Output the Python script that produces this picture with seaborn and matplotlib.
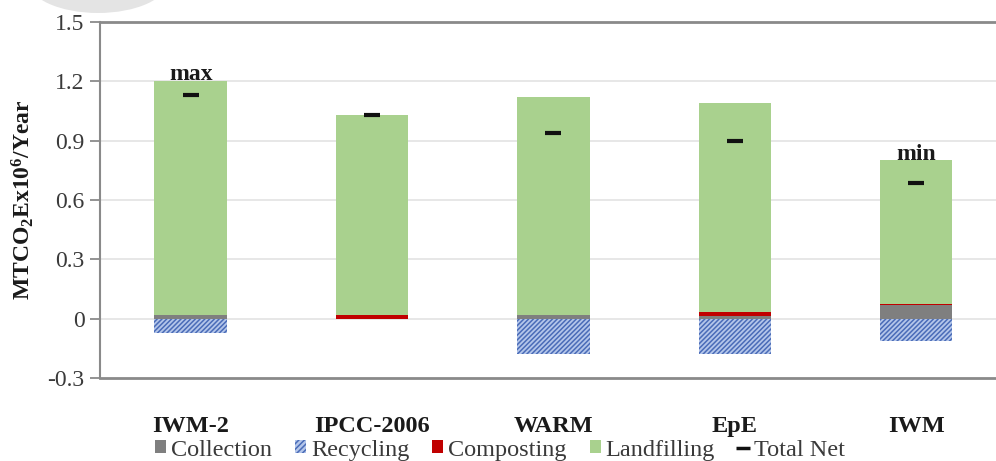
import matplotlib
matplotlib.use("Agg")
import matplotlib.pyplot as plt
from matplotlib.patches import Patch, Circle
from matplotlib.lines import Line2D
import numpy as np
import pandas as pd
import seaborn as sns

# Emission model comparison (MTCO2E x10^6 / year)
models = ["IWM-2", "IPCC-2006", "WARM", "EpE", "IWM"]
collection = [0.02, 0.00, 0.02, 0.015, 0.07]
recycling = [-0.07, 0.00, -0.18, -0.18, -0.115]
composting = [0.00, 0.02, 0.00, 0.02, 0.006]
landfilling = [1.18, 1.01, 1.10, 1.055, 0.724]
total_net = [1.13, 1.03, 0.94, 0.90, 0.685]
yticks = [-0.3, 0, 0.3, 0.6, 0.9, 1.2, 1.5]
ytick_labels = ["-0.3", "0", "0.3", "0.6", "0.9", "1.2", "1.5"]

df = pd.DataFrame({
    "model": models,
    "collection": collection,
    "recycling": recycling,
    "composting": composting,
    "landfilling": landfilling,
    "total": total_net,
})

sns.set_style("white")
plt.rcParams["font.family"] = ["Liberation Serif", "DejaVu Serif"]
plt.rcParams["hatch.linewidth"] = 1.1
plt.rcParams["mathtext.fontset"] = "custom"
plt.rcParams["mathtext.rm"] = "Liberation Serif"
plt.rcParams["mathtext.bf"] = "Liberation Serif:bold"

fig = plt.figure(figsize=(9.96, 4.61), dpi=100)
ax = fig.add_axes([100 / 996, 1 - 378 / 461, 896 / 996, (378 - 22) / 461])

C_COLL = "#7f7f7f"
C_REC_FACE = "#b4c6ea"
C_REC_HATCH = "#4a6cb8"
C_COMP = "#c00000"
C_LAND = "#a9d18e"
BW = 0.4

# light horizontal gridlines
for t in yticks[1:-1]:
    ax.axhline(t, color="#e3e3e3", lw=1.2, zorder=0)

# positive stack: collection -> composting -> landfilling
base_comp = df["collection"].values
base_land = base_comp + df["composting"].values

sns.barplot(data=df, x="model", y="collection", color=C_COLL, width=BW,
            saturation=1, linewidth=0, ax=ax, zorder=2)
sns.barplot(data=df, x="model", y="composting", color=C_COMP, width=BW,
            saturation=1, linewidth=0, bottom=base_comp, ax=ax, zorder=2)
sns.barplot(data=df, x="model", y="landfilling", color=C_LAND, width=BW,
            saturation=1, linewidth=0, bottom=base_land, ax=ax, zorder=2)
# negative part: recycling credits
sns.barplot(data=df, x="model", y="recycling", color=C_REC_FACE, width=BW,
            saturation=1, linewidth=0, ax=ax, zorder=2)
for bar in ax.patches[-len(models):]:
    bar.set_hatch("///////")
    bar.set_edgecolor(C_REC_HATCH)
    bar.set_linewidth(0)

# total net markers
xpos = np.arange(len(models))
ax.plot(xpos, df["total"], linestyle="none", marker="_", markersize=11,
        markeredgewidth=3, color="#111111", zorder=4)

# max / min annotations
top = base_land + df["landfilling"].values
imax = int(np.argmax(df["total"]))
imin = int(np.argmin(df["total"]))
ax.text(imax, top[imax] + 0.034, "max", ha="center", va="center", fontsize=17,
        fontweight="bold", color="#1a1a1a", zorder=5)
ax.text(imin, top[imin] + 0.03, "min", ha="center", va="center", fontsize=17,
        fontweight="bold", color="#1a1a1a", zorder=5)

ax.set_ylim(-0.3, 1.5)
ax.set_xlim(-0.5, 4.44)
ax.set_yticks(yticks)
ax.set_yticklabels(ytick_labels, fontsize=17, color="#3a3a3a")
ax.set_xticks(xpos)
ax.set_xticklabels(models, fontsize=17.5, fontweight="bold", color="#1a1a1a")
ax.tick_params(axis="x", length=0, pad=27)
ax.tick_params(axis="y", length=7, width=1.3, color="#8a8a8a", pad=4, direction="out", left=True)
ax.set_xlabel("")
ax.set_ylabel(r"$\mathbf{MTCO_2Ex10^6/Year}$", fontsize=17, color="#1a1a1a", labelpad=8)

for side in ["left", "top", "bottom"]:
    ax.spines[side].set_visible(True)
    ax.spines[side].set_color("#8a8a8a")
    ax.spines[side].set_linewidth(2)
ax.spines["left"].set_linewidth(1.5)
ax.spines["right"].set_visible(False)

handles = [
    Patch(facecolor=C_COLL, edgecolor="none", label="Collection"),
    Patch(facecolor=C_REC_FACE, edgecolor=C_REC_HATCH, hatch="//////", linewidth=0, label="Recycling"),
    Patch(facecolor=C_COMP, edgecolor="none", label="Composting"),
    Patch(facecolor=C_LAND, edgecolor="none", label="Landfilling"),
    Line2D([0], [0], color="#111111", lw=0, marker="_", markersize=10,
           markeredgewidth=2.5, label="Total Net"),
]
fig.legend(handles=handles, loc="center", bbox_to_anchor=(500 / 996, 1 - 450 / 461),
           ncol=5, frameon=False, fontsize=17.5, handlelength=0.45, handleheight=0.45,
           handletextpad=0.2, columnspacing=0.95, labelcolor="#3a3a3a")

# faint round mark at the top left corner
fig.patches.append(Circle((98 / 996, 1 + 19.5 / 461), 32.5 / 461,
                          transform=fig.transFigure, facecolor="#e4e4e4",
                          edgecolor="none", zorder=-1))

fig.savefig("out.png", dpi=100)
